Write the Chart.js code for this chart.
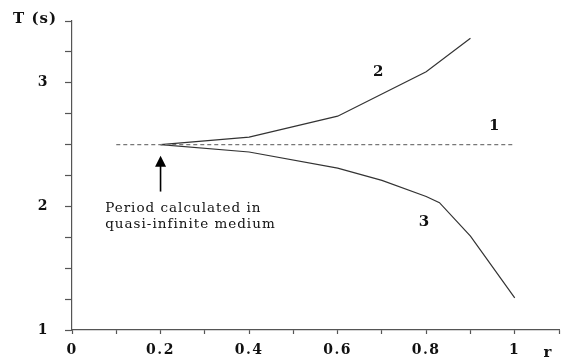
<!DOCTYPE html>
<html>
<head>
<meta charset="utf-8">
<script src="https://cdn.jsdelivr.net/npm/chart.js@4.4.1/dist/chart.umd.min.js"></script>
<style>
  html, body { margin: 0; padding: 0; background: #fff; }
  #wrap { width: 561px; height: 362px; position: relative; }
</style>
</head>
<body>
<div id="wrap"><canvas id="c" width="561" height="362"></canvas></div>
<script>
// ---- data ----
const r1 = [0.1, 0.2, 0.4, 0.6, 0.8, 1.0];
const T1 = [2.5, 2.5, 2.5, 2.5, 2.5, 2.5];

const r2 = [0.2, 0.4, 0.6, 0.8, 0.9];
const T2 = [2.5, 2.56, 2.73, 3.09, 3.36];

const r3 = [0.2, 0.4, 0.6, 0.7, 0.8, 0.83, 0.9, 1.0];
const T3 = [2.5, 2.44, 2.31, 2.21, 2.08, 2.03, 1.76, 1.26];

const xTickValues = [0, 0.2, 0.4, 0.6, 0.8, 1];
const xTickLabels = ['0', '0.2', '0.4', '0.6', '0.8', '1'];
const yTickValues = [1, 2, 3];
const yTickLabels = ['1', '2', '3'];

const seriesLabels = ['1', '2', '3'];
const yAxisTitle = 'T (s)';
const xAxisTitle = 'r';
const noteLines = ['Period calculated in', 'quasi-infinite medium'];

const pts = (xs, ys) => xs.map((x, i) => ({ x: x, y: ys[i] }));

const SERIF = '"DejaVu Serif", "Liberation Serif", serif';
const AXIS = '#555555';

const textPlugin = {
  id: 'texts',
  beforeDraw(chart) {
    chart.ctx.letterSpacing = '1.5px';
  },
  afterDraw(chart) {
    const ctx = chart.ctx;
    const xs = chart.scales.x, ys = chart.scales.y;
    const px = v => xs.getPixelForValue(v);
    const py = v => ys.getPixelForValue(v);
    ctx.save();
    ctx.fillStyle = '#111';
    ctx.letterSpacing = '1px';
    // axis titles
    ctx.font = 'bold 15px ' + SERIF;
    ctx.textAlign = 'left';
    ctx.textBaseline = 'middle';
    ctx.fillText(yAxisTitle, 13, 19);
    ctx.textAlign = 'center';
    ctx.fillText(xAxisTitle, 548, 353);
    // curve labels
    ctx.font = 'bold 15px ' + SERIF;
    ctx.fillText(seriesLabels[0], px(0.955), py(2.65));
    ctx.fillText(seriesLabels[1], px(0.693), py(3.09));
    ctx.fillText(seriesLabels[2], px(0.796), py(1.87));
    // note text
    ctx.font = '13.5px ' + SERIF;
    ctx.textAlign = 'left';
    ctx.textBaseline = 'alphabetic';
    ctx.fillText(noteLines[0], px(0.075), py(1.955));
    ctx.fillText(noteLines[1], px(0.075), py(1.825));
    // arrow
    const ax = px(0.2);
    const tip = py(2.41), bot = py(2.12);
    ctx.strokeStyle = '#000';
    ctx.lineWidth = 1.6;
    ctx.beginPath();
    ctx.moveTo(ax, tip + 8);
    ctx.lineTo(ax, bot);
    ctx.stroke();
    ctx.fillStyle = '#000';
    ctx.beginPath();
    ctx.moveTo(ax, tip);
    ctx.lineTo(ax - 5.5, tip + 11);
    ctx.lineTo(ax + 5.5, tip + 11);
    ctx.closePath();
    ctx.fill();
    ctx.restore();
  }
};

new Chart(document.getElementById('c'), {
  type: 'scatter',
  data: {
    datasets: [
      { data: pts(r1, T1), showLine: true, borderColor: '#777', borderWidth: 1.2, borderDash: [4, 3], pointRadius: 0, fill: false },
      { data: pts(r2, T2), showLine: true, borderColor: '#333', borderWidth: 1.2, pointRadius: 0, fill: false },
      { data: pts(r3, T3), showLine: true, borderColor: '#333', borderWidth: 1.2, pointRadius: 0, fill: false }
    ]
  },
  options: {
    responsive: false,
    animation: false,
    layout: { padding: { top: 21, right: 2, left: 0, bottom: 0 } },
    plugins: { legend: { display: false }, tooltip: { enabled: false } },
    scales: {
      x: {
        type: 'linear', min: 0, max: 1.1,
        afterFit(s) { s.height = 32; s.paddingLeft = 0; s.paddingRight = 0; },
        afterBuildTicks(s) {
          const t = [];
          for (let i = 0; i <= 11; i++) t.push({ value: i / 10 });
          s.ticks = t;
        },
        border: { display: true, color: AXIS, width: 1.2 },
        grid: { drawOnChartArea: false, drawTicks: true, tickLength: 4, color: AXIS, tickWidth: 1.2 },
        ticks: {
          autoSkip: false, maxRotation: 0, padding: 8, color: '#111',
          font: { family: SERIF, size: 14, weight: 'bold' },
          callback(v) {
            const i = xTickValues.findIndex(t => Math.abs(t - v) < 1e-6);
            return i >= 0 ? xTickLabels[i] : '';
          }
        }
      },
      y: {
        type: 'linear', min: 1, max: 3.5,
        afterFit(s) { s.width = 72; s.paddingTop = 0; s.paddingBottom = 0; },
        afterBuildTicks(s) {
          const t = [];
          for (let i = 0; i <= 10; i++) t.push({ value: 1 + i * 0.25 });
          s.ticks = t;
        },
        border: { display: true, color: AXIS, width: 1.2 },
        grid: { drawOnChartArea: false, drawTicks: true, tickLength: 7, color: AXIS, tickWidth: 1.2 },
        ticks: {
          autoSkip: false, padding: 16, color: '#111',
          font: { family: SERIF, size: 14, weight: 'bold' },
          callback(v) {
            const i = yTickValues.findIndex(t => Math.abs(t - v) < 1e-6);
            return i >= 0 ? yTickLabels[i] : '';
          }
        }
      }
    }
  },
  plugins: [textPlugin]
});
</script>
</body>
</html>
